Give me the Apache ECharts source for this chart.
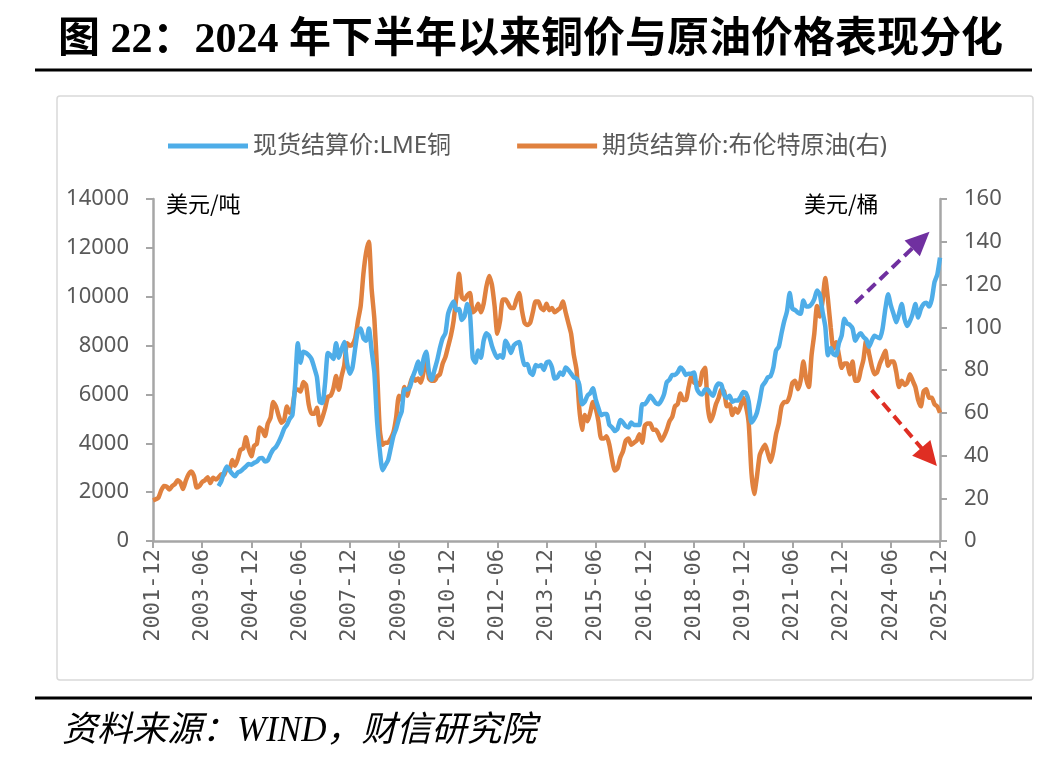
<!DOCTYPE html>
<html>
<head>
<meta charset="utf-8">
<script src="https://cdn.jsdelivr.net/npm/echarts@6/dist/echarts.min.js"></script>
<style>
html,body{margin:0;padding:0;background:#fff;}
#chart{width:1061px;height:774px;}
</style>
</head>
<body>
<div id="chart"></div>
<script>
// Monthly categories 2001-12 .. 2025-12
var startYear = 2001, startMonth = 12, endYear = 2025, endMonth = 12;
var months = [];
(function(){
  var y = startYear, m = startMonth;
  while (y < endYear || (y === endYear && m <= endMonth)) {
    months.push(y + '-' + (m < 10 ? '0' + m : '' + m));
    m++; if (m > 12) { m = 1; y++; }
  }
})();

var seriesNames = ['现货结算价:LME铜', '期货结算价:布伦特原油(右)'];

// LME copper, USD/t (2001-12 .. 2025-12)
var copper = [
  null,
  null,null,null,null,null,null,null,null,null,null,null,null,            // 2002
  null,null,null,null,null,null,null,null,null,null,null,2250,            // 2003
  2450,2800,3050,2900,2750,2650,2800,2850,2950,3050,3150,3120,            // 2004
  3200,3250,3380,3400,3250,3300,3550,3750,3850,4050,4300,4600,            // 2005
  4750,5000,5150,6400,8100,7300,7750,7700,7600,7450,7100,6700,            // 2006
  5700,5650,6500,7700,7600,7450,8100,7500,7850,8150,7300,6850,            // 2007
  7100,7900,8600,8700,8300,8200,8700,7800,6900,4900,3700,2900,            // 2008
  3100,3300,3800,4300,4600,5000,5300,6200,6200,6300,6700,7000,            // 2009
  7350,6850,7450,7750,6900,6600,7000,7400,7900,8300,8500,9300,            // 2010
  9600,9800,9450,9500,9050,9200,9700,9300,7500,7300,7800,7500,            // 2011
  8200,8500,8400,8000,7700,7500,7600,7500,8200,8000,7700,8000,            // 2012
  8100,8150,7600,7200,7250,6900,6800,7200,7150,7200,7000,7300,            // 2013
  7350,7100,6650,6700,6900,6800,7100,7000,6850,6700,6650,6400,            // 2014
  5600,5700,5950,6050,6250,5800,5450,5150,5200,5200,4750,4650,            // 2015
  4500,4600,4950,4850,4700,4650,4850,4750,4750,4750,5600,5600,            // 2016
  5750,5950,5800,5650,5600,5750,6000,6500,6600,6800,6800,6900,            // 2017
  7100,7000,6800,6850,6850,6900,6250,6050,6000,6200,6200,6050,            // 2018
  5950,6300,6450,6400,6000,5850,5950,5700,5750,5750,5900,6100,            // 2019
  6050,5700,4850,5000,5250,5750,6350,6500,6700,6750,7100,7800,            // 2020
  7950,8500,9000,9400,10150,9500,9450,9350,9300,9850,9600,9600,           // 2021
  9700,9900,10250,10100,9400,8800,7600,7900,7650,7600,8100,8400,          // 2022
  9100,8900,8850,8700,8200,8400,8500,8350,8250,7950,8200,8400,            // 2023
  8350,8300,8700,9500,10100,9650,9300,8950,9300,9700,9100,8800,           // 2024
  9000,9300,9700,9150,9500,9700,9750,9600,9900,10600,10900,11600          // 2025
];

// Brent futures settlement, USD/bbl (2001-12 .. 2025-12)
var brent = [
  19,
  19.5,20.3,23.7,25.7,25.4,24.1,25.7,26.6,28.4,27.5,24.3,28.2,            // 2002
  31.2,32.5,30.4,25.0,25.8,27.6,28.4,29.8,27.1,29.6,28.8,29.8,            // 2003
  31.2,30.9,33.8,33.4,37.9,35.2,38.2,42.7,43.2,48.5,43.1,39.6,            // 2004
  44.5,45.5,53.1,51.9,49.1,54.9,57.6,65.0,62.9,58.5,55.3,56.6,            // 2005
  62.9,60.0,62.3,70.4,70.9,69.9,74.4,73.0,63.8,59.5,59.5,62.3,            // 2006
  54.3,57.8,62.1,67.5,67.9,71.3,77.2,70.8,77.1,82.3,92.5,91.4,            // 2007
  92,95,103,110,125,135,140,118,104,80,52,45,                             // 2008
  46,46,48,51,58,68,66,72,68,73,77,75,                                    // 2009
  76,74,79,87,76,75,75,77,78,83,86,91,                                    // 2010
  96,103,114,125,114,113,115,116,107,108,111,107,                         // 2011
  111,119,124,120,110,97,103,113,113,111,109,109,                         // 2012
  113,116,108,102,101,102,107,112,112,109,108,111,                        // 2013
  108,109,107,108,109,112,107,102,97,87,80,62,                            // 2014
  52,59,56,60,65,62,56,48,48,49,45,38,                                    // 2015
  33,34,39,42,47,48,45,46,47,50,46,54,                                    // 2016
  55,55,52,52,50,47,49,52,56,58,63,64,                                    // 2017
  69,66,66,72,77,74,74,73,79,81,63,56,                                    // 2018
  59,64,67,71,70,63,64,59,62,60,63,67,                                    // 2019
  63,55,32,22,30,40,43,45,41,37,42,50,                                    // 2020
  55,63,65,65,68,74,75,71,75,84,76,72,                                    // 2021
  87,97,110,105,112,123,113,100,90,93,87,81,                              // 2022
  83,83,78,84,75,75,80,85,94,88,82,78,                                    // 2023
  79,83,86,89,82,84,84,79,72,75,73,74,                                    // 2024
  78,75,72,66,63,70,71,67,67,64,63,60                                     // 2025
];

// Trend arrows (annotation, in data coordinates)
var upArrow = [['2023-05', 9740], ['2025-05', 12320]];
var downArrow = [['2023-11', 70.6], ['2025-08', 39.3]];

var leftTicks = {min: 0, max: 14000, interval: 2000};
var rightTicks = {min: 0, max: 160, interval: 20};

var chart = echarts.init(document.getElementById('chart'));
var sans = "'Noto Sans','Noto Sans CJK SC',sans-serif";
var axisColor = '#A6A6A6';
var labelColor = '#595959';
var plain = function (v) { return String(v); };

chart.setOption({
  animation: false,
  backgroundColor: '#fff',
  title: {
    text: '图 22：2024 年下半年以来铜价与原油价格表现分化',
    left: 'center',
    top: 15,
    textStyle: {
      fontFamily: "'Liberation Serif','Noto Sans CJK SC',serif",
      fontWeight: 'bold',
      fontSize: 42,
      color: '#000'
    }
  },
  legend: {
    data: seriesNames,
    left: 168,
    top: 134,
    icon: 'rect',
    itemWidth: 80,
    itemHeight: 5,
    itemGap: 66,
    padding: 0,
    textStyle: {fontFamily: sans, fontSize: 24, color: labelColor}
  },
  grid: {left: 153, right: 121, top: 199, bottom: 233, containLabel: false},
  xAxis: {
    type: 'category',
    data: months,
    boundaryGap: false,
    axisLine: {show: true, lineStyle: {color: axisColor, width: 2.5}},
    axisTick: {show: true, interval: 17, length: 7, lineStyle: {color: axisColor, width: 2}},
    axisLabel: {
      interval: 17, rotate: 90, margin: 8,
      fontFamily: "'DejaVu Sans Mono',monospace", fontSize: 22, color: labelColor
    },
    splitLine: {show: false}
  },
  yAxis: [
    {
      type: 'value', min: leftTicks.min, max: leftTicks.max, interval: leftTicks.interval,
      position: 'left',
      axisLine: {show: true, lineStyle: {color: axisColor, width: 2.5}},
      axisTick: {show: true, length: 7, lineStyle: {color: axisColor, width: 2}},
      axisLabel: {margin: 24, fontFamily: sans, fontSize: 22, color: labelColor, formatter: plain},
      splitLine: {show: false}
    },
    {
      type: 'value', min: rightTicks.min, max: rightTicks.max, interval: rightTicks.interval,
      position: 'right',
      axisLine: {show: true, lineStyle: {color: axisColor, width: 2.5}},
      axisTick: {show: true, length: 7, lineStyle: {color: axisColor, width: 2}},
      axisLabel: {margin: 24, fontFamily: sans, fontSize: 22, color: labelColor, formatter: plain},
      splitLine: {show: false}
    }
  ],
  series: [
    {
      name: seriesNames[0],
      type: 'line',
      yAxisIndex: 0,
      data: copper,
      showSymbol: false,
      smooth: 0.2,
      lineStyle: {color: '#4EADE8', width: 4.5},
      itemStyle: {color: '#4EADE8'},
      z: 3,
      markLine: {
        silent: true,
        symbol: ['none', 'triangle'],
        symbolSize: [22, 24],
        label: {show: false},
        lineStyle: {color: '#7030A0', width: 4, type: [11, 6]},
        data: [[{coord: upArrow[0]}, {coord: upArrow[1]}]]
      }
    },
    {
      name: seriesNames[1],
      type: 'line',
      yAxisIndex: 1,
      data: brent,
      showSymbol: false,
      smooth: 0.2,
      lineStyle: {color: '#E0813F', width: 4.5},
      itemStyle: {color: '#E0813F'},
      z: 2,
      markLine: {
        silent: true,
        symbol: ['none', 'triangle'],
        symbolSize: [24, 24],
        label: {show: false},
        lineStyle: {color: '#DF2E23', width: 4, type: [11, 6]},
        data: [[{coord: downArrow[0]}, {coord: downArrow[1]}]]
      }
    }
  ],
  graphic: [
    {type: 'line', silent: true, shape: {x1: 35, y1: 70, x2: 1032, y2: 70}, style: {stroke: '#000', lineWidth: 3}},
    {type: 'rect', silent: true, z: -1, shape: {x: 57, y: 96, width: 976, height: 584, r: 3}, style: {fill: null, stroke: '#D9D9D9', lineWidth: 1.5}},
    {type: 'line', silent: true, shape: {x1: 35, y1: 698, x2: 1032, y2: 698}, style: {stroke: '#000', lineWidth: 3}},
    {type: 'text', silent: true, left: 166, top: 193, style: {text: '美元/吨', font: "22px 'Noto Sans CJK SC'", fill: '#000'}},
    {type: 'text', silent: true, left: 804, top: 193, style: {text: '美元/桶', font: "22px 'Noto Sans CJK SC'", fill: '#000'}},
    {type: 'text', silent: true, left: 62, top: 714, style: {text: '资料来源：WIND，财信研究院', font: "italic 35px 'Liberation Serif','Noto Sans CJK SC'", fill: '#000'}}
  ]
});
</script>
</body>
</html>
